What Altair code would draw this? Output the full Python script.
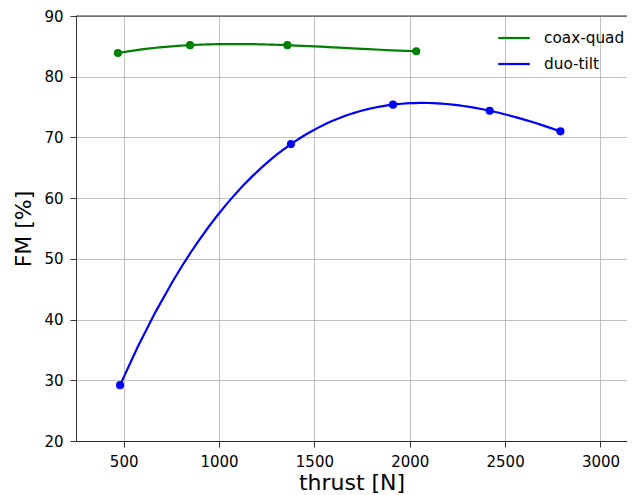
import altair as alt
import pandas as pd

series_names = ["coax-quad", "duo-tilt"]
series_colors = ["green", "blue"]
coax_thrust = [470, 848, 1358, 2034]
coax_fm = [83.9, 85.2, 85.2, 84.2]
duo_thrust = [481, 1377, 1912, 2419, 2790]
duo_fm = [29.2, 68.9, 75.4, 74.4, 71.0]
x_ticks = [500, 1000, 1500, 2000, 2500, 3000]
y_ticks = [20, 30, 40, 50, 60, 70, 80, 90]

df = pd.DataFrame({
    "thrust": coax_thrust + duo_thrust,
    "fm": coax_fm + duo_fm,
    "series": [series_names[0]] * len(coax_thrust) + [series_names[1]] * len(duo_thrust),
})
top_df = pd.DataFrame({"fm": [y_ticks[-1]]})

W, H = 551, 425
xs = alt.Scale(domain=[250, 3139], nice=False, zero=False)
ys = alt.Scale(domain=[20, 90], nice=False, zero=False)
cs = alt.Scale(domain=series_names, range=series_colors)

x_enc = alt.X("thrust:Q", scale=xs,
              axis=alt.Axis(values=x_ticks, format="d", title="thrust [N]", labelPadding=7, titlePadding=3))
y_enc = alt.Y("fm:Q", scale=ys,
              axis=alt.Axis(values=y_ticks, format="d", title="FM [%]", labelPadding=7, titlePadding=8))

legend = alt.Legend(title=None, orient="none", legendX=421, legendY=5,
                    symbolType="stroke", symbolSize=1000, symbolStrokeWidth=2.2,
                    labelOffset=13, rowPadding=-12.5, labelFontSize=15.3,
                    labelFont="DejaVu Sans", labelColor="black", padding=0)

points = alt.Chart(df).mark_circle(size=65, opacity=1).encode(
    x=x_enc, y=y_enc,
    color=alt.Color("series:N", scale=cs, legend=None),
)

def fit(name, order):
    return alt.Chart(df).transform_filter(
        alt.datum.series == name
    ).transform_regression(
        "thrust", "fm", method="poly", order=order, groupby=["series"]
    ).mark_line(strokeWidth=2.2).encode(
        x=x_enc, y=y_enc,
        color=alt.Color("series:N", scale=cs, legend=legend),
    )

top_rule = alt.Chart(top_df).mark_rule(color="black", strokeWidth=0.8).encode(
    y=y_enc,
    x=alt.value(0), x2=alt.value(W),
)

chart = alt.layer(fit(series_names[0], 3), fit(series_names[1], 4), points, top_rule).properties(
    width=W, height=H,
    autosize=alt.AutoSizeParams(type="none"),
    padding={"left": 68, "top": 8, "right": 0, "bottom": 58},
).configure_view(stroke=None).configure_axis(
    domainColor="black", domainWidth=0.8, tickColor="black", tickWidth=0.8, tickSize=6,
    labelFont="DejaVu Sans", labelFontSize=15, labelColor="black",
    titleFont="DejaVu Sans", titleFontSize=22, titleFontWeight="normal", titleColor="black",
    gridColor="#b0b0b0", gridWidth=0.8, gridOpacity=1,
)

chart.save("out.html", embed_options={"renderer": "svg", "actions": False})
